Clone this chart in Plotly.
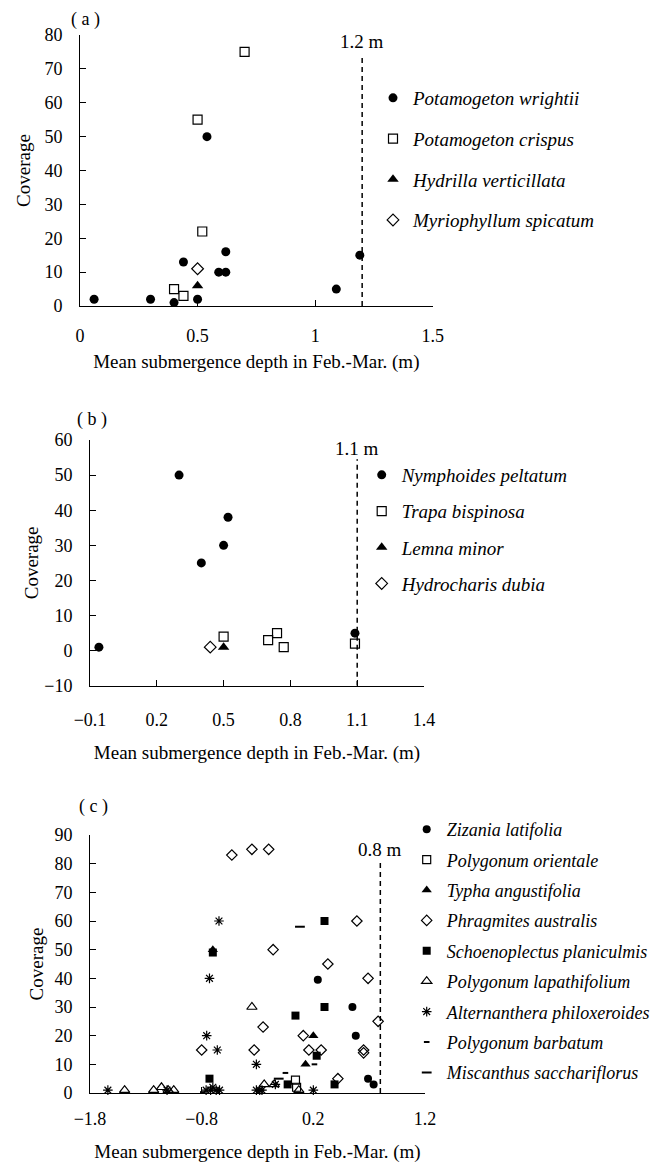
import plotly.graph_objects as go

# ---------------- data ----------------
# Panel (a)
a_wrightii_x = [0.06, 0.30, 0.40, 0.50, 0.44, 0.54, 0.59, 0.62, 0.62, 1.09, 1.19]
a_wrightii_y = [2, 2, 1, 2, 13, 50, 10, 10, 16, 5, 15]
a_crispus_x = [0.70, 0.50, 0.52, 0.40, 0.44]
a_crispus_y = [75, 55, 22, 5, 3]
a_hydrilla_x = [0.50]
a_hydrilla_y = [6]
a_myrio_x = [0.50]
a_myrio_y = [11]
a_limit = 1.2

# Panel (b)
b_nymph_x = [-0.06, 0.30, 0.40, 0.50, 0.52, 1.09]
b_nymph_y = [1, 50, 25, 30, 38, 5]
b_trapa_x = [0.50, 0.70, 0.74, 0.77, 1.09]
b_trapa_y = [4, 3, 5, 1, 2]
b_lemna_x = [0.50]
b_lemna_y = [1]
b_hydro_x = [0.44]
b_hydro_y = [1]
b_limit = 1.1

# Panel (c)
c_zizania_x = [0.24, 0.55, 0.58, 0.69, 0.74]
c_zizania_y = [39.5, 30, 20, 5, 3]
c_orient_x = [0.04, 0.05]
c_orient_y = [4.5, 2]
c_typha_x = [-0.70, 0.20, 0.13]
c_typha_y = [50, 20, 10]
c_phrag_x = [-0.53, -0.35, -0.20, 0.59, -0.16, 0.33, 0.69, 0.78, -0.25, 0.11,
             -0.80, -0.33, 0.16, 0.27, 0.65, 0.65, 0.42]
c_phrag_y = [83, 85, 85, 60, 50, 45, 40, 25, 23, 20,
             15, 15, 15, 15, 15, 14, 5]
c_schoen_x = [-0.70, 0.30, 0.30, 0.04, 0.23, -0.73, -0.03, 0.39]
c_schoen_y = [49, 60, 30, 27, 13, 5, 3, 3]
c_lapath_x = [-0.35, -1.49, -1.23, -1.16, -1.10, -1.05, -0.24, -0.15, 0.07]
c_lapath_y = [30, 1, 1, 2, 1, 1, 3, 3, 1]
c_altern_x = [-0.645, -0.73, -0.755, -0.66, -0.31, -1.64, -1.11, -0.76, -0.72,
              -0.70, -0.67, -0.64, -0.31, -0.28, -0.26, -0.14, 0.20]
c_altern_y = [60, 40, 20, 15, 10, 1, 1, 1, 1, 2, 1, 1, 1, 1, 1, 3, 1]
c_barb_x = [-0.79, -0.05, 0.21]
c_barb_y = [0.3, 7, 10]
c_misc_x = [0.08, -0.11]
c_misc_y = [58, 5]
c_limit = 0.8

X_TITLE = "Mean submergence depth in Feb.-Mar. (m)"
Y_TITLE = "Coverage"

SERIF = "Liberation Serif"
TICK_FS = 18
TITLE_FS = 19
BLACK = "#000000"

fig = go.Figure()


def add(x, y, name, symbol, size, xa, ya, legend, group, lw=1.2):
    fig.add_trace(go.Scatter(
        x=x, y=y, mode="markers", name="<i>" + name + "</i>",
        xaxis=xa, yaxis=ya, legend=legend, legendgroup=group,
        cliponaxis=False,
        marker=dict(symbol=symbol, size=size, color=BLACK,
                    line=dict(color=BLACK, width=lw)),
        showlegend=True,
    ))


# panel a
add(a_wrightii_x, a_wrightii_y, "Potamogeton wrightii", "circle", 9, "x", "y", "legend", "a1", 0)
add(a_crispus_x, a_crispus_y, "Potamogeton crispus", "square-open", 9, "x", "y", "legend", "a2")
add(a_hydrilla_x, a_hydrilla_y, "Hydrilla verticillata", "triangle-up", 10, "x", "y", "legend", "a3", 0)
add(a_myrio_x, a_myrio_y, "Myriophyllum spicatum", "diamond-open", 9, "x", "y", "legend", "a4")

# panel b
add(b_nymph_x, b_nymph_y, "Nymphoides peltatum", "circle", 9, "x2", "y2", "legend2", "b1", 0)
add(b_trapa_x, b_trapa_y, "Trapa bispinosa", "square-open", 9, "x2", "y2", "legend2", "b2")
add(b_lemna_x, b_lemna_y, "Lemna minor", "triangle-up", 10, "x2", "y2", "legend2", "b3", 0)
add(b_hydro_x, b_hydro_y, "Hydrocharis dubia", "diamond-open", 9, "x2", "y2", "legend2", "b4")

# panel c
add(c_zizania_x, c_zizania_y, "Zizania latifolia", "circle", 8, "x3", "y3", "legend3", "c1", 0)
add(c_orient_x, c_orient_y, "Polygonum orientale", "square-open", 8, "x3", "y3", "legend3", "c2")
add(c_typha_x, c_typha_y, "Typha angustifolia", "triangle-up", 9, "x3", "y3", "legend3", "c3", 0)
add(c_phrag_x, c_phrag_y, "Phragmites australis", "diamond-open", 8, "x3", "y3", "legend3", "c4")
add(c_schoen_x, c_schoen_y, "Schoenoplectus planiculmis", "square", 8, "x3", "y3", "legend3", "c5", 0)
add(c_lapath_x, c_lapath_y, "Polygonum lapathifolium", "triangle-up-open", 9, "x3", "y3", "legend3", "c6")
add(c_altern_x, c_altern_y, "Alternanthera philoxeroides", "asterisk-open", 8, "x3", "y3", "legend3", "c7")
add(c_barb_x, c_barb_y, "Polygonum barbatum", "line-ew-open", 4, "x3", "y3", "legend3", "c8", 2)
add(c_misc_x, c_misc_y, "Miscanthus sacchariflorus", "line-ew-open", 7, "x3", "y3", "legend3", "c9", 2)

# the page places the figure 8 px in from the top-left corner
OFF = 8
W, H = 670 - OFF, 1168 - OFF


def px_x(p):
    return (p - OFF) / W


def px_y(p):
    return 1 - (p - OFF) / H


def xaxis(dom, rng, dtick, anchor, lab_off, title_off):
    return dict(domain=[px_x(dom[0]), px_x(dom[1])], range=rng, dtick=dtick,
                tick0=rng[0], anchor=anchor, showline=True, linecolor=BLACK,
                linewidth=1, ticks="inside", ticklen=6, tickcolor=BLACK,
                showgrid=False, zeroline=False, ticklabelstandoff=lab_off,
                automargin=False,
                tickfont=dict(family=SERIF, size=TICK_FS, color=BLACK),
                title=dict(text=X_TITLE, standoff=title_off,
                           font=dict(family=SERIF, size=TITLE_FS, color=BLACK)))


def yaxis(dom, rng, dtick, anchor, standoff):
    return dict(domain=[px_y(dom[1]), px_y(dom[0])], range=rng, dtick=dtick,
                tick0=rng[0], anchor=anchor, showline=True, linecolor=BLACK,
                linewidth=1, ticks="inside", ticklen=6, tickcolor=BLACK,
                showgrid=False, zeroline=False, ticklabelstandoff=13,
                automargin=False,
                tickfont=dict(family=SERIF, size=TICK_FS, color=BLACK),
                title=dict(text=Y_TITLE, standoff=standoff,
                           font=dict(family=SERIF, size=TITLE_FS, color=BLACK)))


layout = dict(
    width=W, height=H, margin=dict(l=0, r=0, t=0, b=0, autoexpand=False),
    paper_bgcolor="white", plot_bgcolor="white",
    font=dict(family=SERIF, size=TICK_FS, color=BLACK),
    xaxis=xaxis((80, 432.7), [0, 1.5], 0.5, "y", 13, 10),
    yaxis=yaxis((35, 306), [0, 80], 10, "x", 8),
    xaxis2=xaxis((90, 424), [-0.1, 1.4], 0.3, "y2", 18, 16),
    yaxis2=yaxis((440, 685.8), [-10, 60], 10, "x2", 0),
    xaxis3=xaxis((90, 425), [-1.8, 1.2], 1.0, "y3", 9, 17),
    yaxis3=yaxis((835, 1093), [0, 90], 10, "x3", 5),
)


def legend(xpx, ypx, gap, fs):
    return dict(x=px_x(xpx), y=px_y(ypx), xanchor="left", yanchor="top",
                bgcolor="rgba(0,0,0,0)", borderwidth=0, traceorder="grouped",
                tracegroupgap=gap, itemsizing="trace",
                font=dict(family=SERIF, size=fs, color=BLACK))


layout["legend"] = legend(413 - 40, 99 - 20, 13, 19)
layout["legend2"] = legend(401.7 - 40, 477 - 21, 8.5, 19)
layout["legend3"] = legend(446.7 - 40, 831 - 20, 4, 18)

fig.update_layout(**layout)

# reference depth lines
for xa, ya, xv, y0, y1, lab, ly in [
    ("x", "y", a_limit, 0, 74, "1.2 m", 74.5),
    ("x2", "y2", b_limit, -10, 54.5, "1.1 m", 54),
    ("x3", "y3", c_limit, 0, 80.5, "0.8 m", 80.5),
]:
    fig.add_shape(type="line", xref=xa, yref=ya, x0=xv, x1=xv, y0=y0, y1=y1,
                  line=dict(color=BLACK, width=1.5, dash="5px,4px"))
    fig.add_annotation(xref=xa, yref=ya, x=xv, y=ly, text=lab, showarrow=False,
                       yanchor="bottom", font=dict(family=SERIF, size=TITLE_FS, color=BLACK))

# panel labels
for lab, xp, yp, anc in [("( a )", 85, 8, "top"), ("( b )", 92, 420, "middle"),
                         ("( c )", 93, 806, "middle")]:
    fig.add_annotation(xref="paper", yref="paper", x=px_x(xp), y=px_y(yp),
                       text=lab, showarrow=False, xanchor="center", yanchor=anc,
                       borderpad=0,
                       font=dict(family=SERIF, size=TICK_FS, color=BLACK))

fig.write_html("out.html")
